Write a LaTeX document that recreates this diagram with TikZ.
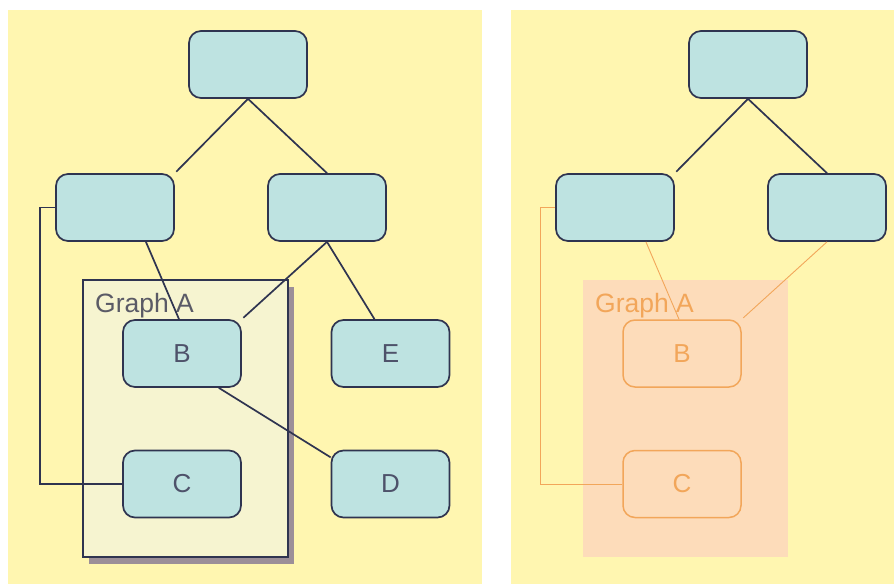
\documentclass[tikz,border=0pt]{standalone}
\usepackage{fontspec}
\setmainfont{Liberation Sans}
\definecolor{paper}{HTML}{FFF6B0}
\definecolor{boxfill}{HTML}{BEE3E1}
\definecolor{ink}{HTML}{2F3450}
\definecolor{groupfill}{HTML}{F6F4D0}
\definecolor{groupshadow}{HTML}{9C8F98}
\definecolor{grouptext}{HTML}{5A5A66}
\definecolor{peach}{HTML}{FDDCBA}
\definecolor{amber}{HTML}{F2A65A}
\tikzset{
  vertex/.style={draw=ink, line width=1.7pt, fill=boxfill, rounded corners=12pt,
    minimum width=118pt, minimum height=67pt, inner sep=0pt,
    font=\fontsize{26}{31}\selectfont, text=ink!85},
  ghost/.style={draw=amber, line width=1.5pt, fill=none, rounded corners=12pt,
    minimum width=118pt, minimum height=67pt, inner sep=0pt,
    font=\fontsize{26}{31}\selectfont, text=amber},
  edge/.style={draw=ink, line width=1.7pt},
  faint/.style={draw=amber, line width=0.9pt},
  grouplabel/.style={anchor=base west, inner sep=0pt, font=\fontsize{26.5}{32}\selectfont}
}
\begin{document}
\begin{tikzpicture}[x=1pt, y=-1pt]
\useasboundingbox (0,0) rectangle (894,584);
\fill[white] (0,0) rectangle (894,584);
% two panels
\fill[paper] (8,10) rectangle (482,584);
\fill[paper] (511,10) rectangle (894,584);

% ---------- left panel ----------
\fill[groupshadow] (89,287) rectangle (294,564);
\filldraw[fill=groupfill, draw=ink, line width=1.4pt] (83,280) rectangle (288,557);
\node[grouplabel, text=grouptext] (gA) at (95,312) {Graph A};

\node[vertex] (top) at (248,64.5) {};
\node[vertex] (L) at (115,207.5) {};
\node[vertex] (R) at (327,207.5) {};
\node[vertex] (B) at (182,353.5) {B};
\node[vertex] (C) at (182,484) {C};
\node[vertex] (E) at (390.5,353.5) {E};
\node[vertex] (D) at (390.5,484) {D};

\draw[edge, shorten >=2pt] (top.south) -- (L.north east);
\draw[edge] (top.south) -- (R.north);
\draw[edge] (L.-48) -- (B.95);
\draw[edge, shorten >=2pt] (R.south) -- (B.north east);
\draw[edge] (R.south) -- (E.115);
\draw[edge] (B.-43) -- (D.156);
\draw[edge] (L.west) -- ++(-15,0) |- (C.west);

% ---------- right panel ----------
\fill[peach] (583,280) rectangle (788,557);
\node[grouplabel, text=amber] (rgA) at (595,312) {Graph A};

\node[vertex] (rtop) at (748,64.5) {};
\node[vertex] (rL) at (615,207.5) {};
\node[vertex] (rR) at (827,207.5) {};
\node[ghost] (rB) at (682,353.5) {B};
\node[ghost] (rC) at (682,484) {C};

\draw[edge, shorten >=2pt] (rtop.south) -- (rL.north east);
\draw[edge] (rtop.south) -- (rR.north);
\draw[faint] (rL.-48) -- (rB.95);
\draw[faint, shorten >=2pt] (rR.south) -- (rB.north east);
\draw[faint] (rL.west) -- ++(-15,0) |- (rC.west);
\end{tikzpicture}
\end{document}
